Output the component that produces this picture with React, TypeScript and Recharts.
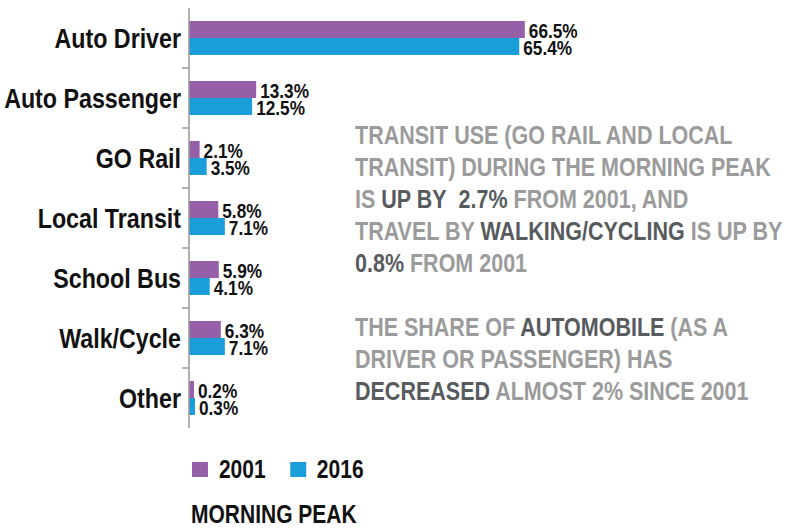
import { BarChart, Bar, XAxis, YAxis, Legend, LabelList } from "recharts";

const categories = ["Auto Driver", "Auto Passenger", "GO Rail", "Local Transit", "School Bus", "Walk/Cycle", "Other"];
const values2001 = [66.5, 13.3, 2.1, 5.8, 5.9, 6.3, 0.2];
const values2016 = [65.4, 12.5, 3.5, 7.1, 4.1, 7.1, 0.3];
const seriesNames = ["2001", "2016"];

const PURPLE = "#9660a8";
const BLUE = "#1a9eda";
const FONT = "'Liberation Sans', Arial, sans-serif";
const NARROW = 0.84;
const LIGHT = "#9b9b9b";
const DARK = "#575b5e";

const data = categories.map((name, i) => ({ name, y2001: values2001[i], y2016: values2016[i] }));

function CategoryTick(props: any) {
  const { x, y, payload, index } = props;
  const half = payload.offset || 30;
  return (
    <g>
      <text
        transform={`translate(${x},${y}) scale(0.83,1)`}
        textAnchor="end"
        dominantBaseline="central"
        fontFamily={FONT}
        fontWeight="bold"
        fontSize={28}
        fill="#111"
      >
        {payload.value}
      </text>
      {index < categories.length - 1 && (
        <line x1={x + 1} x2={x + 8} y1={y + half} y2={y + half} stroke="#999" strokeWidth={1.5} />
      )}
    </g>
  );
}

function ValueLabel(props: any) {
  const { x, y, width, height, value } = props;
  return (
    <text
      transform={`translate(${x + width + 4},${y + height / 2 + 1}) scale(0.82,1)`}
      dominantBaseline="central"
      fontFamily={FONT}
      fontWeight="bold"
      fontSize={21}
      fill="#111"
    >
      {value.toFixed(1)}%
    </text>
  );
}

function LegendContent() {
  const colors = [PURPLE, BLUE];
  return (
    <div
      style={{
        display: "flex",
        alignItems: "center",
        fontFamily: FONT,
        fontWeight: "bold",
        fontSize: 25,
        color: "#111",
        transform: `scaleX(${NARROW})`,
        transformOrigin: "left center",
        width: 400,
      }}
    >
      {seriesNames.map((s, i) => (
        <div key={s} style={{ display: "flex", alignItems: "center", marginRight: 29 }}>
          <span style={{ display: "inline-block", width: 19, height: 15, background: colors[i], marginRight: 13 }} />
          <span>{s}</span>
        </div>
      ))}
    </div>
  );
}

const noteLines: [string, boolean][][] = [
  [["TRANSIT USE (GO RAIL AND LOCAL", false]],
  [["TRANSIT) DURING THE MORNING PEAK", false]],
  [["IS ", false], ["UP BY\u00a0 2.7%", true], [" FROM 2001, AND", false]],
  [["TRAVEL BY ", false], ["WALKING/CYCLING", true], [" IS UP BY", false]],
  [["0.8%", true], [" FROM 2001", false]],
  [["\u00a0", false]],
  [["THE SHARE OF ", false], ["AUTOMOBILE", true], [" (AS A", false]],
  [["DRIVER OR PASSENGER) HAS", false]],
  [["DECREASED", true], [" ALMOST 2% SINCE 2001", false]],
];

export default function App() {
  return (
    <div style={{ position: "absolute", left: 0, top: 0, width: 789, height: 529, background: "#fff", overflow: "hidden" }}>
      <BarChart
        layout="vertical"
        width={789}
        height={529}
        data={data}
        margin={{ top: 8, right: 95, bottom: 101, left: 0 }}
        barSize={17}
        barGap={0}
      >
        <XAxis type="number" domain={[0, 100]} hide />
        <YAxis
          type="category"
          dataKey="name"
          width={189}
          axisLine={{ stroke: "#999", strokeWidth: 1.5 }}
          tickLine={false}
          tick={<CategoryTick />}
          interval={0}
        />
        <Legend
          verticalAlign="middle"
          layout="horizontal"
          content={<LegendContent />}
          wrapperStyle={{ position: "absolute", top: 455, left: 192, width: 400, height: 30 }}
        />
        <Bar dataKey="y2001" name={seriesNames[0]} fill={PURPLE} minPointSize={5} isAnimationActive={false}>
          <LabelList dataKey="y2001" content={<ValueLabel />} />
        </Bar>
        <Bar dataKey="y2016" name={seriesNames[1]} fill={BLUE} minPointSize={6} isAnimationActive={false}>
          <LabelList dataKey="y2016" content={<ValueLabel />} />
        </Bar>
      </BarChart>
      <div
        style={{
          position: "absolute",
          left: 355,
          top: 119,
          fontFamily: FONT,
          fontWeight: "bold",
          fontSize: 25,
          lineHeight: "32px",
          whiteSpace: "pre",
          color: LIGHT,
          transform: "scaleX(0.86)",
          transformOrigin: "left top",
        }}
      >
        {noteLines.map((line, i) => (
          <div key={i}>
            {line.map(([t, dark], j) => (
              <span key={j} style={{ color: dark ? DARK : LIGHT }}>
                {t}
              </span>
            ))}
          </div>
        ))}
      </div>
      <div
        style={{
          position: "absolute",
          left: 191,
          top: 500,
          fontFamily: FONT,
          fontWeight: "bold",
          fontSize: 25,
          color: "#111",
          whiteSpace: "pre",
          transform: `scaleX(${NARROW})`,
          transformOrigin: "left top",
        }}
      >
        MORNING PEAK
      </div>
    </div>
  );
}
